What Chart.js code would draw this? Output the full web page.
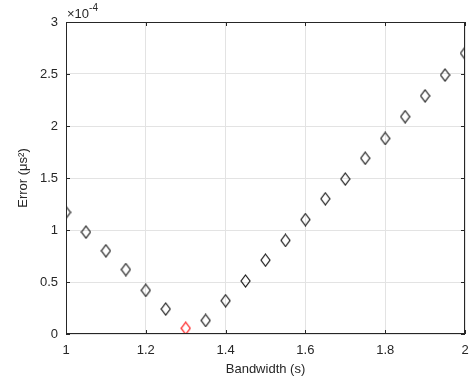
<!DOCTYPE html>
<html>
<head>
<meta charset="utf-8">
<script src="https://cdn.jsdelivr.net/npm/chart.js@4"></script>
<style>
  html, body { margin: 0; padding: 0; background: #fff; }
  #wrap { width: 475px; height: 386px; }
</style>
</head>
<body>
<div id="wrap"><canvas id="c" width="475" height="386"></canvas></div>
<script>
// bandwidth (s) and error (units of 1e-4 us^2)
const bandwidth = [1.00, 1.05, 1.10, 1.15, 1.20, 1.25, 1.30, 1.35, 1.40, 1.45, 1.50,
                   1.55, 1.60, 1.65, 1.70, 1.75, 1.80, 1.85, 1.90, 1.95, 2.00];
const errorScaled = [1.17, 0.98, 0.80, 0.62, 0.42, 0.24, 0.055, 0.13, 0.32, 0.51, 0.71,
                     0.90, 1.10, 1.30, 1.49, 1.69, 1.88, 2.09, 2.29, 2.49, 2.70];
const xTicks = [1, 1.2, 1.4, 1.6, 1.8, 2];
const yTicks = [0, 0.5, 1, 1.5, 2, 2.5, 3];
const exponentLabel = "-4";

const INK = "#262626";
const FONT = "'Liberation Sans', Arial, sans-serif";

function diamond(color) {
  const w = 11, h = 14;
  const c = document.createElement("canvas");
  c.width = w; c.height = h;
  const g = c.getContext("2d");
  g.strokeStyle = color;
  g.lineWidth = 1.2;
  g.beginPath();
  g.moveTo(w / 2, 1);
  g.lineTo(w - 1, h / 2);
  g.lineTo(w / 2, h - 1);
  g.lineTo(1, h / 2);
  g.closePath();
  g.stroke();
  return c;
}
const blackDiamond = diamond("#1a1a1a");
const redDiamond = diamond("#ff1010");

const minIdx = errorScaled.indexOf(Math.min(...errorScaled));

const boxPlugin = {
  id: "box",
  afterDraw(chart) {
    const { ctx, chartArea: a, scales } = chart;
    ctx.save();
    ctx.strokeStyle = INK;
    ctx.lineWidth = 1;
    ctx.strokeRect(a.left + 0.5, a.top + 0.5, a.right - a.left - 1, a.bottom - a.top - 1);
    ctx.beginPath();
    const t = 4;
    for (const v of xTicks) {
      const x = Math.round(scales.x.getPixelForValue(v)) + 0.5;
      ctx.moveTo(x, a.bottom); ctx.lineTo(x, a.bottom - t);
      ctx.moveTo(x, a.top); ctx.lineTo(x, a.top + t);
    }
    for (const v of yTicks) {
      const y = Math.round(scales.y.getPixelForValue(v)) + 0.5;
      ctx.moveTo(a.left, y); ctx.lineTo(a.left + t, y);
      ctx.moveTo(a.right, y); ctx.lineTo(a.right - t, y);
    }
    ctx.stroke();
    // exponent label
    ctx.fillStyle = INK;
    ctx.textBaseline = "alphabetic";
    ctx.font = "13px " + FONT;
    ctx.fillText("\u00d710", a.left + 1, a.top - 4);
    const w = ctx.measureText("\u00d710").width;
    ctx.font = "10px " + FONT;
    ctx.fillText(exponentLabel, a.left + 1 + w, a.top - 11);
    ctx.restore();
  }
};

new Chart(document.getElementById("c"), {
  type: "scatter",
  data: {
    datasets: [{
      data: bandwidth.map((x, i) => ({ x, y: errorScaled[i] })),
      pointStyle: ctx => ctx.dataIndex === minIdx ? redDiamond : blackDiamond,
      pointRadius: 6,
      showLine: false
    }]
  },
  options: {
    responsive: false,
    animation: false,
    layout: { padding: { top: 22, right: 10, left: 0, bottom: 0 } },
    plugins: { legend: { display: false }, tooltip: { enabled: false } },
    scales: {
      x: {
        type: "linear",
        min: 1, max: 2,
        afterBuildTicks: s => { s.ticks = xTicks.map(v => ({ value: v })); },
        afterFit: s => { s.height = 52; s.paddingRight = 0; s.paddingLeft = 0; },
        grid: { color: "#e3e3e3", drawTicks: false },
        border: { display: false },
        ticks: {
          color: INK, padding: 9,
          font: { family: FONT, size: 13 },
          callback: v => String(v)
        },
        title: {
          display: true, text: "Bandwidth (s)", color: INK,
          font: { family: FONT, size: 13 }, padding: { top: 0, bottom: 9 }
        }
      },
      y: {
        min: 0, max: 3,
        afterBuildTicks: s => { s.ticks = yTicks.map(v => ({ value: v })); },
        afterFit: s => { s.width = 66; },
        grid: { color: "#e3e3e3", drawTicks: false },
        border: { display: false },
        ticks: {
          color: INK, padding: 8,
          font: { family: FONT, size: 13 },
          callback: v => String(v)
        },
        title: {
          display: true, text: "Error (\u03bcs\u00b2)", color: INK,
          font: { family: FONT, size: 13 }, padding: { top: 16, bottom: 0 }
        }
      }
    }
  },
  plugins: [boxPlugin]
});
</script>
</body>
</html>
